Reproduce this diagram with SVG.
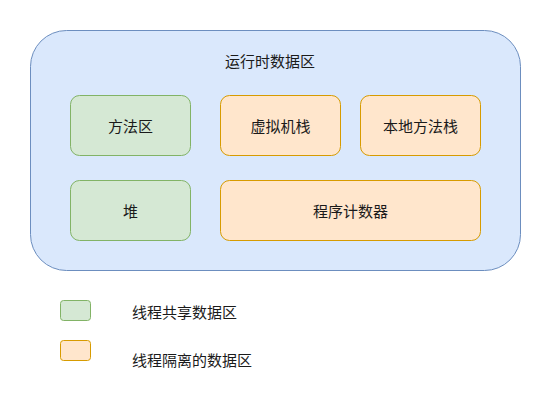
<svg xmlns="http://www.w3.org/2000/svg" width="551" height="401" viewBox="0 0 551 401">
<style>
text{font-family:"Noto Sans CJK SC","Noto Sans",sans-serif;font-size:15px;fill:#1a1a1a;dominant-baseline:central}
.c{text-anchor:middle}
.g{fill:#d5e8d4;stroke:#82b366;stroke-width:1}
.o{fill:#ffe6cc;stroke:#d79b00;stroke-width:1}
.b{fill:#dae8fc;stroke:#6c8ebf;stroke-width:1}
</style>
<rect width="551" height="401" fill="#ffffff"/>
<g id="runtime-area">
<rect class="b" x="30.5" y="30.5" width="490" height="240" rx="36" ry="36"/>
<text class="c" x="270" y="60">运行时数据区</text>
</g>
<g id="method-area">
<rect class="g" x="70.5" y="95.5" width="120" height="60" rx="9" ry="9"/>
<text class="c" x="130.5" y="125.5">方法区</text>
</g>
<g id="vm-stack">
<rect class="o" x="220.5" y="95.5" width="120" height="60" rx="9" ry="9"/>
<text class="c" x="280.5" y="125.5">虚拟机栈</text>
</g>
<g id="native-stack">
<rect class="o" x="360.5" y="95.5" width="120" height="60" rx="9" ry="9"/>
<text class="c" x="420.5" y="125.5">本地方法栈</text>
</g>
<g id="heap">
<rect class="g" x="70.5" y="180.5" width="120" height="60" rx="9" ry="9"/>
<text class="c" x="130.5" y="210.5">堆</text>
</g>
<g id="pc-register">
<rect class="o" x="220.5" y="180.5" width="260" height="60" rx="9" ry="9"/>
<text class="c" x="350.5" y="210.5">程序计数器</text>
</g>
<g id="connectors"></g>
<g id="legend-shared">
<rect class="g" x="60.5" y="300.5" width="30" height="20" rx="3" ry="3"/>
<text x="132" y="311">线程共享数据区</text>
</g>
<g id="legend-isolated">
<rect class="o" x="60.5" y="340.5" width="30" height="20" rx="3" ry="3"/>
<text x="132" y="359">线程隔离的数据区</text>
</g>
</svg>
